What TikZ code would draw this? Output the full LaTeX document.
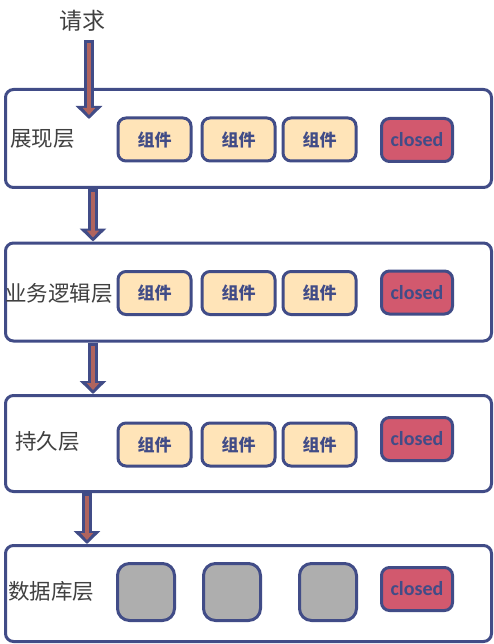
\documentclass[tikz,border=0pt]{standalone}
\usepackage{fontspec}
\usetikzlibrary{arrows.meta}
\newfontfamily\cjk{Noto Sans CJK SC}
\newfontfamily\lat{Carlito}
\definecolor{edgeblue}{HTML}{414C87}
\definecolor{compfill}{HTML}{FFE4B8}
\definecolor{closedred}{HTML}{D2596E}
\definecolor{dbgray}{HTML}{AEAEAE}
\definecolor{arrowbrown}{HTML}{B0645E}
\definecolor{labelgray}{HTML}{404040}
\tikzset{
  layerbox/.style={draw=edgeblue,line width=3pt,rounded corners=8pt,fill=white,
    minimum width=486pt,inner sep=0pt},
  comp/.style={draw=edgeblue,line width=3pt,rounded corners=8pt,fill=compfill,
    minimum width=73pt,minimum height=43pt,inner sep=0pt,text=edgeblue,
    font=\cjk\bfseries\fontsize{17}{17}\selectfont},
  closedbox/.style={draw=edgeblue,line width=3pt,rounded corners=8pt,fill=closedred,
    minimum width=71pt,minimum height=43pt,inner sep=0pt,text=edgeblue,
    font=\lat\bfseries\fontsize{20}{20}\selectfont},
  dbbox/.style={draw=edgeblue,line width=3pt,rounded corners=12pt,fill=dbgray,
    minimum width=57pt,minimum height=57pt,inner sep=0pt},
  layername/.style={text=labelgray,inner sep=0pt,font=\cjk\fontsize{21.5}{21.5}\selectfont},
  flowout/.style={draw=edgeblue,line width=10pt,-{Triangle[width=26pt,length=13pt]}},
  flowin/.style={draw=arrowbrown,line width=4pt,shorten <=3pt,shorten >=4pt,
    -{Triangle[width=12pt,length=7pt]}}
}
\begin{document}
\begin{tikzpicture}[x=1pt,y=-1pt]
  \useasboundingbox (0,0) rectangle (494,644);
  % layers
  \node[layerbox,minimum height=98pt] (L1) at (248.5,138.5) {};
  \node[layerbox,minimum height=98pt] (L2) at (248.5,292) {};
  \node[layerbox,minimum height=96pt] (L3) at (248.5,443.5) {};
  \node[layerbox,minimum height=96pt] (L4) at (248.5,593.5) {};
  \node[layername,anchor=west] (n1) at (10,139) {展现层};
  \node[layername,anchor=west] (n2) at (5,293) {业务逻辑层};
  \node[layername,anchor=west] (n3) at (15,441) {持久层};
  \node[layername,anchor=west] (n4) at (8,591) {数据库层};
  \node[text=labelgray,inner sep=0pt,font=\cjk\fontsize{23}{23}\selectfont] (req) at (82,21) {请求};
  %components
  \foreach \x/\i in {154.5/1,238.5/2,319.5/3}{
    \node[comp] (c1\i) at (\x,139.5) {组件};
    \node[comp] (c2\i) at (\x,293) {组件};
    \node[comp] (c3\i) at (\x,444.5) {组件};
  }
  \node[closedbox] (k1) at (417,140) {closed};
  \node[closedbox] (k2) at (417,292.5) {closed};
  \node[closedbox] (k3) at (417,439) {closed};
  \node[closedbox] (k4) at (417,589) {closed};
  \foreach \x/\i in {146/1,232/2,328/3}
    \node[dbbox] (d\i) at (\x,592) {};
  %arrows
  \coordinate (top) at (89,40);
  \coordinate (tip) at (89,119);
  \coordinate (x2) at (93,0);
  \coordinate (x4) at (87,0);
  \foreach \s in {flowout,flowin}{
    \draw[\s] (top) -- (tip);
    \draw[\s] (L1.south -| x2) -- (L2.north -| x2);
    \draw[\s] (L2.south -| x2) -- (L3.north -| x2);
    \draw[\s] (L3.south -| x4) -- (L4.north -| x4);
  }
\end{tikzpicture}
\end{document}
